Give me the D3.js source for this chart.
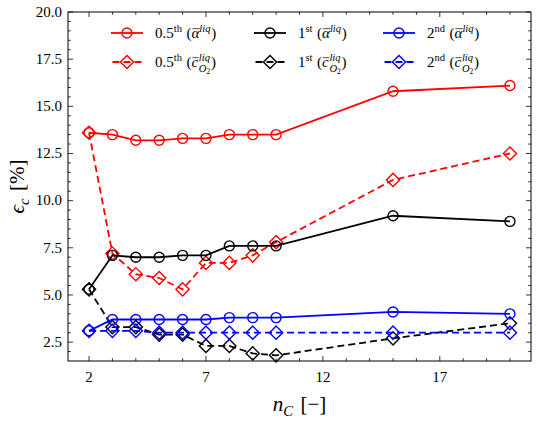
<!DOCTYPE html>
<html>
<head>
<meta charset="utf-8">
<script src="https://cdn.jsdelivr.net/npm/d3@7"></script>
<style>
body{margin:0;background:#fff;}
</style>
</head>
<body>
<div id="chart-area"></div>
<script>
// data
var nC=[2,3,4,5,6,7,8,9,10,15,20];
var redAlpha=[13.6,13.5,13.2,13.2,13.3,13.3,13.5,13.5,13.5,15.8,16.1];
var redCO2=[13.6,7.2,6.1,5.9,5.3,6.7,6.7,7.1,7.8,11.1,12.5];
var blackAlpha=[5.3,7.1,7.0,7.0,7.1,7.1,7.6,7.6,7.6,9.2,8.9];
var blackCO2=[5.3,3.3,3.3,2.9,2.9,2.3,2.3,1.9,1.8,2.7,3.5];
var blueAlpha=[3.1,3.7,3.7,3.7,3.7,3.7,3.8,3.8,3.8,4.1,4.0];
var blueCO2=[3.1,3.1,3.1,3.0,3.0,3.0,3.0,3.0,3.0,3.0,3.0];
var xTicks=[2,7,12,17];
var yTicks=[2.5,5,7.5,10,12.5,15,17.5,20];
var orders=["0.5","1","2"];
var orderSup=["th","st","nd"];
var colors=["#ff0000","#000000","#0000ff"];

var FONT="'Liberation Serif'";
var margin={left:68,right:7,top:12,bottom:63};
var W=538,H=424;
var width=W-margin.left-margin.right, height=H-margin.top-margin.bottom;

var svg=d3.select("#chart-area").append("svg")
    .attr("width",W).attr("height",H)
    .attr("font-family",FONT);
var g=svg.append("g")
    .attr("transform","translate("+margin.left+","+margin.top+")");

var x=d3.scaleLinear().domain([1.1,20.9]).range([0,width]);
var y=d3.scaleLinear().domain([1.5,20]).range([height,0]);

// ticks inward on all four sides
function ticks(vals,len){
    vals.forEach(v=>{
        var px=x(v);
        g.append("line").attr("x1",px).attr("x2",px).attr("y1",height).attr("y2",height-len).attr("stroke","#000").attr("stroke-width",0.8);
        g.append("line").attr("x1",px).attr("x2",px).attr("y1",0).attr("y2",len).attr("stroke","#000").attr("stroke-width",0.8);
    });
}
function yticks(vals,len){
    vals.forEach(v=>{
        var py=y(v);
        g.append("line").attr("x1",0).attr("x2",len).attr("y1",py).attr("y2",py).attr("stroke","#000").attr("stroke-width",0.8);
        g.append("line").attr("x1",width).attr("x2",width-len).attr("y1",py).attr("y2",py).attr("stroke","#000").attr("stroke-width",0.8);
    });
}
ticks(d3.range(2,21,1).filter(v=>xTicks.indexOf(v)<0),2.8);
ticks(xTicks,5);
yticks(d3.range(2,20,0.5).filter(v=>yTicks.indexOf(v)<0),2.8);
yticks(yTicks,5);

xTicks.forEach(v=>{
    g.append("text").attr("x",x(v)).attr("y",height+21).attr("text-anchor","middle")
        .attr("font-family",FONT).attr("font-size","15px").text(v);
});
yTicks.forEach(v=>{
    g.append("text").attr("x",-6).attr("y",y(v)+4.8).attr("text-anchor","end")
        .attr("font-family",FONT).attr("font-size","15px").text(d3.format(".1f")(v));
});

// lines + markers
var line=d3.line().x((d,i)=>x(nC[i])).y(d=>y(d));
var series=[
    {v:redAlpha,c:colors[0],dash:null,m:"o"},
    {v:redCO2,c:colors[0],dash:"7,4",m:"d"},
    {v:blackAlpha,c:colors[1],dash:null,m:"o"},
    {v:blackCO2,c:colors[1],dash:"7,4",m:"d"},
    {v:blueAlpha,c:colors[2],dash:null,m:"o"},
    {v:blueCO2,c:colors[2],dash:"7,4",m:"d"}
];
function marker(sel,m,cx,cy,c){
    if(m=="o"){
        sel.append("circle").attr("cx",cx).attr("cy",cy).attr("r",5)
            .attr("fill","none").attr("stroke",c).attr("stroke-width",1.4);
    } else {
        var r=6.6;
        sel.append("path").attr("d","M"+cx+","+(cy-r)+"L"+(cx+r)+","+cy+"L"+cx+","+(cy+r)+"L"+(cx-r)+","+cy+"Z")
            .attr("fill","none").attr("stroke",c).attr("stroke-width",1.4);
    }
}
series.forEach(s=>{
    g.append("path").datum(s.v).attr("d",line).attr("fill","none")
        .attr("stroke",s.c).attr("stroke-width",1.8)
        .attr("stroke-dasharray",s.dash);
    s.v.forEach((d,i)=>marker(g,s.m,x(nC[i]),y(d),s.c));
});

// frame
g.append("rect").attr("width",width).attr("height",height)
    .attr("fill","none").attr("stroke","#000").attr("stroke-width",1);

// math-ish text: runs laid out one after another
function mtext(sel,runs,fs){
    var gg=sel.append("g");
    var cx=0,save=0,maxx=0;
    runs.forEach(r=>{
        if(r.save) save=cx;
        if(r.back){maxx=cx;cx=save;}
        if(r.max) cx=Math.max(cx,maxx);
        cx+=(r.pre||0)*fs;
        var s=(r.s||1)*fs;
        var t=gg.append("text").attr("x",cx).attr("y",(r.dy||0)*fs)
            .attr("font-family",FONT)
            .attr("font-size",s+"px").attr("font-style",r.it?"italic":"normal").text(r.t);
        var w=t.node().getComputedTextLength();
        if(r.over){
            gg.append("line").attr("x1",cx+1).attr("x2",cx+w+0.5)
                .attr("y1",-0.62*fs).attr("y2",-0.62*fs)
                .attr("stroke","#000").attr("stroke-width",0.7);
        }
        cx+=w+(r.post||0)*fs;
    });
    return {g:gg,w:cx};
}

// legend
var legX=[111,254,383], legY=[33,62];
orders.forEach((o,i)=>{
    [0,1].forEach(k=>{
        var lx=legX[i], ly=legY[k];
        g.append("line").attr("x1",lx-margin.left).attr("x2",lx+32-margin.left)
            .attr("y1",ly-margin.top).attr("y2",ly-margin.top)
            .attr("stroke",colors[i]).attr("stroke-width",1.8)
            .attr("stroke-dasharray",k==0?null:"7,4")
            .attr("stroke-dashoffset",k==0?0:-1.5);
        marker(g,k==0?"o":"d",lx+16-margin.left,ly-margin.top,colors[i]);
        var runs=[{t:o},{t:orderSup[i],s:0.7,dy:-0.38},{t:"(",pre:0.3}];
        if(k==0){
            runs.push({t:"α",it:true,over:true});
            runs.push({t:"liq",it:true,s:0.7,dy:-0.42});
        } else {
            runs.push({t:"c",it:true,over:true,post:0.05});
            runs.push({t:"liq",it:true,s:0.7,dy:-0.42,save:true});
            runs.push({t:"O",it:true,s:0.7,dy:0.3,back:true});
            runs.push({t:"2",s:0.5,dy:0.45});
        }
        runs.push({t:")",max:true,pre:0.05});
        var mt=mtext(svg,runs,15);
        mt.g.attr("transform","translate("+(lx+44)+","+(ly+5)+")");
    });
});

// axis labels
var xl=mtext(svg,[{t:"n",it:true},{t:"C",it:true,s:0.7,dy:0.22},{t:"[−]",pre:0.35}],21);
xl.g.attr("transform","translate("+(margin.left+width/2-xl.w/2)+",411)");
var yg=svg.append("g").attr("transform","translate(24,"+(margin.top+height/2)+") rotate(-90)");
var yl=mtext(yg,[{t:"ϵ",it:true},{t:"c",it:true,s:0.7,dy:0.22},{t:"[%]",pre:0.35}],21);
yl.g.attr("transform","translate("+(-yl.w/2)+",0)");
</script>
</body>
</html>
